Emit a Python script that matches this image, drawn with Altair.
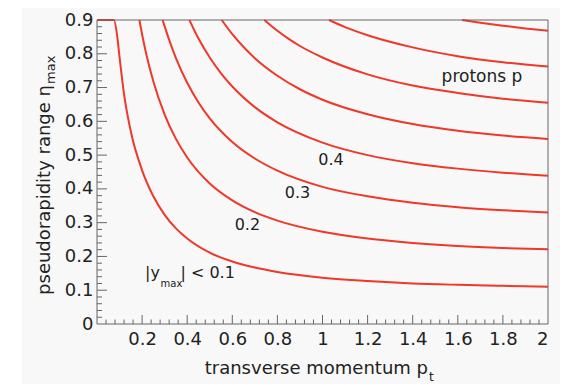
import altair as alt
import pandas as pd

# ---- data (transverse momentum pt vs pseudorapidity range) ----
curve_labels = ["0.1", "0.2", "0.3", "0.4", "0.5", "0.6", "0.7", "0.8"]

c1_pt = [0.0, 0.075, 0.09, 0.1, 0.12, 0.15, 0.2, 0.25, 0.3, 0.35, 0.4, 0.5, 0.6, 0.7, 0.8, 1.0, 1.2, 1.4, 1.6, 1.8, 2.0]
c1_eta = [0.9, 0.9, 0.85, 0.79, 0.68, 0.57, 0.455, 0.378, 0.323, 0.283, 0.253, 0.211, 0.185, 0.167, 0.154, 0.137, 0.127, 0.120, 0.116, 0.113, 0.110]

c2_pt = [0.188, 0.2, 0.22, 0.25, 0.3, 0.35, 0.4, 0.5, 0.6, 0.7, 0.8, 1.0, 1.2, 1.4, 1.6, 1.8, 2.0]
c2_eta = [0.9, 0.857, 0.795, 0.718, 0.620, 0.548, 0.493, 0.416, 0.366, 0.331, 0.306, 0.273, 0.253, 0.240, 0.231, 0.225, 0.221]

c3_pt = [0.291, 0.3, 0.32, 0.35, 0.4, 0.45, 0.5, 0.6, 0.7, 0.8, 1.0, 1.2, 1.4, 1.6, 1.8, 2.0]
c3_eta = [0.9, 0.881, 0.841, 0.787, 0.714, 0.656, 0.609, 0.539, 0.490, 0.454, 0.406, 0.378, 0.359, 0.346, 0.337, 0.330]

c4_pt = [0.41, 0.45, 0.5, 0.55, 0.6, 0.7, 0.8, 1.0, 1.2, 1.4, 1.6, 1.8, 2.0]
c4_eta = [0.9, 0.845, 0.789, 0.742, 0.703, 0.642, 0.597, 0.537, 0.500, 0.476, 0.460, 0.448, 0.439]

c5_pt = [0.553, 0.6, 0.65, 0.7, 0.8, 0.9, 1.0, 1.2, 1.4, 1.6, 1.8, 2.0]
c5_eta = [0.9, 0.858, 0.820, 0.787, 0.735, 0.695, 0.664, 0.621, 0.592, 0.572, 0.558, 0.548]

c6_pt = [0.742, 0.8, 0.85, 0.9, 1.0, 1.2, 1.4, 1.6, 1.8, 2.0]
c6_eta = [0.9, 0.868, 0.844, 0.823, 0.789, 0.739, 0.706, 0.684, 0.667, 0.655]

c7_pt = [1.029, 1.1, 1.2, 1.4, 1.6, 1.8, 2.0]
c7_eta = [0.9, 0.879, 0.855, 0.819, 0.793, 0.775, 0.762]

c8_pt = [1.619, 1.7, 1.8, 1.9, 2.0]
c8_eta = [0.9, 0.892, 0.883, 0.875, 0.868]

x_label_values = [0.2, 0.4, 0.6, 0.8, 1.0, 1.2, 1.4, 1.6, 1.8, 2.0]
y_label_values = [0, 0.1, 0.2, 0.3, 0.4, 0.5, 0.6, 0.7, 0.8, 0.9]

contour_text = ["0.2", "0.3", "0.4"]
contour_text_x = [0.667, 0.889, 1.038]
contour_text_y = [0.278, 0.373, 0.470]

# pieces of "|y_max| < 0.1"
ymax_text = ["|y", "max", "| < 0.1"]
ymax_x = [0.213, 0.282, 0.370]
ymax_y = [0.135, 0.111, 0.135]
ymax_size = [16, 10, 16]

species_text = ["protons p"]
species_x = [1.707]
species_y = [0.717]

# ---- build tables ----
pts = [c1_pt, c2_pt, c3_pt, c4_pt, c5_pt, c6_pt, c7_pt, c8_pt]
etas = [c1_eta, c2_eta, c3_eta, c4_eta, c5_eta, c6_eta, c7_eta, c8_eta]
rows = []
for lab, p, e in zip(curve_labels, pts, etas):
    for a, b in zip(p, e):
        rows.append({"curve": lab, "pt": a, "eta": b})
curves_df = pd.DataFrame(rows)

x_major = [round(v, 2) for v in x_label_values[:-1]]
x_minor = [round(i * 0.04, 2) for i in range(1, 50) if i % 5 != 0]
y_major = [round(v, 2) for v in y_label_values[1:-1]]
y_minor = [round(i * 0.02, 2) for i in range(1, 45) if i % 5 != 0]

W, H = 451, 304
FONT = "DejaVu Sans"
RED = "#ee3828"
AXC = "#666666"
TXT = "#222222"

xs = alt.Scale(domain=[0, 2], nice=False, zero=False)
ys = alt.Scale(domain=[0, 0.9], nice=False, zero=False)
XAX = alt.Axis(values=x_label_values, format="~g", title=None, ticks=False, tickSize=0,
               domain=False, grid=False, labelPadding=6, zindex=2)
YAX = alt.Axis(values=y_label_values, format="~g", title=None, ticks=False, tickSize=0,
               domain=False, grid=False, labelPadding=4, zindex=2)

def X(f):
    return alt.X(f, scale=xs, axis=XAX, title=None)

def Y(f):
    return alt.Y(f, scale=ys, axis=YAX, title=None)

one = pd.DataFrame({"k": [0]})

bg = alt.Chart(one).mark_rect(color="#f8f8f8").encode(
    x=alt.value(-75), x2=alt.value(W + 40), y=alt.value(-16), y2=alt.value(H + 80)
)

def xticks(vals, length):
    return alt.Chart(pd.DataFrame({"v": vals})).mark_rule(color=AXC, strokeWidth=1).encode(
        x=X("v:Q"), y=alt.value(H), y2=alt.value(H - length)
    )

def yticks(vals, length):
    return alt.Chart(pd.DataFrame({"v": vals})).mark_rule(color=AXC, strokeWidth=1).encode(
        y=Y("v:Q"), x=alt.value(0), x2=alt.value(length)
    )

lines = alt.Chart(curves_df).mark_line(color=RED, strokeWidth=2, interpolate="monotone").encode(
    x=X("pt:Q"), y=Y("eta:Q"), detail="curve:N", order="pt:Q",
)

contours = alt.Chart(pd.DataFrame({"t": contour_text, "x": contour_text_x, "y": contour_text_y})).mark_text(
    font=FONT, fontSize=16, color=TXT, align="center", baseline="alphabetic"
).encode(x=X("x:Q"), y=Y("y:Q"), text="t:N")

ymax_lab = alt.Chart(pd.DataFrame({"t": ymax_text, "x": ymax_x, "y": ymax_y, "s": ymax_size})).mark_text(
    font=FONT, color=TXT, align="left", baseline="alphabetic"
).encode(x=X("x:Q"), y=Y("y:Q"), text="t:N", size=alt.Size("s:Q", scale=None, legend=None))

species = alt.Chart(pd.DataFrame({"t": species_text, "x": species_x, "y": species_y})).mark_text(
    font=FONT, fontSize=17, color=TXT, align="center", baseline="alphabetic"
).encode(x=X("x:Q"), y=Y("y:Q"), text="t:N")

xtitle = alt.Chart(one).mark_text(font=FONT, fontSize=18, color=TXT, align="right", baseline="alphabetic").encode(
    x=alt.value(331), y=alt.value(354), text=alt.value("transverse momentum p"))
xtitle_sub = alt.Chart(one).mark_text(font=FONT, fontSize=12, color=TXT, align="left", baseline="alphabetic").encode(
    x=alt.value(332), y=alt.value(361), text=alt.value("t"))
ytitle = alt.Chart(one).mark_text(font=FONT, fontSize=18, color=TXT, align="right", baseline="alphabetic", angle=270).encode(
    x=alt.value(-47), y=alt.value(65), text=alt.value("pseudorapidity range η"))
ytitle_sub = alt.Chart(one).mark_text(font=FONT, fontSize=13, color=TXT, align="left", baseline="alphabetic", angle=270).encode(
    x=alt.value(-42), y=alt.value(64), text=alt.value("max"))

frame = alt.Chart(one).mark_rect(filled=False, stroke=AXC, strokeWidth=1).encode(
    x=alt.value(0), x2=alt.value(W), y=alt.value(0), y2=alt.value(H)
)

chart = alt.layer(
    bg, xticks(x_major, 9), xticks(x_minor, 4.5), yticks(y_major, 10), yticks(y_minor, 5),
    lines, contours, ymax_lab, species, xtitle, xtitle_sub, ytitle, ytitle_sub, frame
).properties(
    width=W, height=H,
    autosize=alt.AutoSizeParams(type="none"),
    padding={"left": 89, "top": 12, "right": 12, "bottom": 60},
    background="white",
).configure_view(stroke=None).configure_axis(
    labelFont=FONT, labelFontSize=18, labelColor=TXT
)

chart.save("out.html", embed_options={"renderer": "svg", "actions": False})
